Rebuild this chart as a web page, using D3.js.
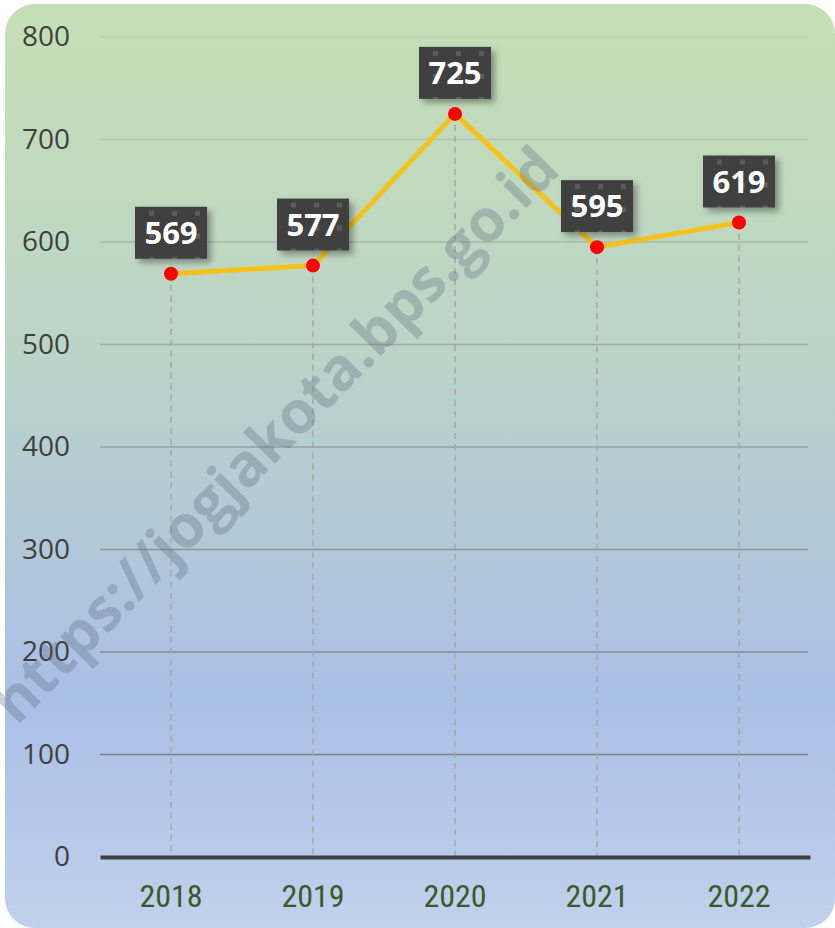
<!DOCTYPE html>
<html>
<head>
<meta charset="utf-8">
<script src="https://cdn.jsdelivr.net/npm/d3@7"></script>
<style>
  body { margin: 0; background: #fff; }
  svg { display: block; }
</style>
</head>
<body>
<div class="chart"></div>
<script>
// data
var years = ["2018", "2019", "2020", "2021", "2022"];
var values = [569, 577, 725, 595, 619];
var yTicks = [0, 100, 200, 300, 400, 500, 600, 700, 800];

var svgWidth = 835;
var svgHeight = 928;

var margin = { top: 37, right: 25, bottom: 71, left: 100 };
var width = svgWidth - margin.left - margin.right;
var height = svgHeight - margin.top - margin.bottom;

var svg = d3.select(".chart")
  .append("svg")
  .attr("width", svgWidth)
  .attr("height", svgHeight);

var defs = svg.append("defs");

// background gradient
var bg = defs.append("linearGradient")
  .attr("id", "bg")
  .attr("x1", 0).attr("y1", 0).attr("x2", 0).attr("y2", 1);
bg.append("stop").attr("offset", "0%").attr("stop-color", "#c5dfb5");
bg.append("stop").attr("offset", "35%").attr("stop-color", "#bcd5c6");
bg.append("stop").attr("offset", "75%").attr("stop-color", "#aabfe6");
bg.append("stop").attr("offset", "100%").attr("stop-color", "#c0d1ec");

// label box pattern
var pat = defs.append("pattern")
  .attr("id", "boxpat")
  .attr("width", 23).attr("height", 23)
  .attr("patternUnits", "userSpaceOnUse");
pat.append("rect").attr("width", 23).attr("height", 23).attr("fill", "#404040");
pat.append("rect").attr("x", 1).attr("y", 1).attr("width", 5).attr("height", 5).attr("fill", "#5a5a5a");

var shadow = defs.append("filter").attr("id", "shadow")
  .attr("x", "-30%").attr("y", "-30%").attr("width", "160%").attr("height", "160%");
shadow.append("feDropShadow")
  .attr("dx", 4).attr("dy", 4).attr("stdDeviation", 3)
  .attr("flood-color", "#000").attr("flood-opacity", 0.35);

svg.append("rect")
  .attr("x", 5).attr("y", 4)
  .attr("width", 830).attr("height", 924)
  .attr("rx", 30)
  .attr("fill", "url(#bg)");

var chartGroup = svg.append("g")
  .attr("transform", `translate(${margin.left}, ${margin.top})`);

// scales
var xScale = d3.scaleBand()
  .domain(years)
  .range([0, 710]);

var yScale = d3.scaleLinear()
  .domain([0, 800])
  .range([height, 0]);

var gridColor = d3.scaleLinear()
  .domain([0, 800])
  .range(["#6d7580", "#c2cdb8"]);

// gridlines
chartGroup.selectAll(".grid")
  .data(yTicks.filter(d => d > 0))
  .enter()
  .append("line")
  .attr("x1", 0).attr("x2", 708)
  .attr("y1", d => yScale(d)).attr("y2", d => yScale(d))
  .attr("stroke", d => gridColor(d))
  .attr("stroke-width", 1.5);

// y axis labels
var leftAxis = d3.axisLeft(yScale).tickValues(yTicks).tickSize(0).tickPadding(30);
var yAxisG = chartGroup.append("g").call(leftAxis);
yAxisG.select(".domain").remove();
yAxisG.selectAll("text")
  .attr("font-family", "'Open Sans', sans-serif")
  .attr("font-size", "28px")
  .attr("fill", "#404040");

// watermark
svg.append("text")
  .attr("transform", "translate(278, 438) rotate(-45.5)")
  .attr("text-anchor", "middle")
  .attr("dominant-baseline", "middle")
  .attr("font-family", "'Open Sans', sans-serif")
  .attr("font-weight", "bold")
  .attr("font-size", "59px")
  .attr("fill", "#56667c")
  .attr("opacity", 0.3)
  .text("https://jogjakota.bps.go.id");

// drop lines
chartGroup.selectAll(".drop")
  .data(values)
  .enter()
  .append("line")
  .attr("x1", (d, i) => xScale(years[i]) + xScale.bandwidth() / 2)
  .attr("x2", (d, i) => xScale(years[i]) + xScale.bandwidth() / 2)
  .attr("y1", d => yScale(d))
  .attr("y2", height)
  .attr("stroke", "#a6a6a6")
  .attr("stroke-width", 1.5)
  .attr("stroke-dasharray", "6,5");

// x axis
var bottomAxis = d3.axisBottom(xScale).tickSize(0).tickPadding(27);
var xAxisG = chartGroup.append("g")
  .attr("transform", `translate(0, ${height})`)
  .call(bottomAxis);
xAxisG.select(".domain")
  .attr("stroke", "#404040")
  .attr("stroke-width", 4);
xAxisG.selectAll("text")
  .attr("font-family", "'Liberation Sans Narrow', 'Roboto Condensed', sans-serif")
  .attr("font-size", "32px")
  .attr("fill", "#3b5a2a");

// line
var line = d3.line()
  .x((d, i) => xScale(years[i]) + xScale.bandwidth() / 2)
  .y(d => yScale(d));

chartGroup.append("path")
  .datum(values)
  .attr("d", line)
  .attr("fill", "none")
  .attr("stroke", "#f5c21b")
  .attr("stroke-width", 5)
  .attr("stroke-linejoin", "round");

// markers
chartGroup.selectAll(".dot")
  .data(values)
  .enter()
  .append("circle")
  .attr("cx", (d, i) => xScale(years[i]) + xScale.bandwidth() / 2)
  .attr("cy", d => yScale(d))
  .attr("r", 7)
  .attr("fill", "#ff0000");

// labels
var labels = chartGroup.selectAll(".lbl")
  .data(values)
  .enter()
  .append("g")
  .attr("transform", (d, i) => `translate(${xScale(years[i]) + xScale.bandwidth() / 2}, ${yScale(d) - 41})`);

labels.append("rect")
  .attr("x", -36).attr("y", -26)
  .attr("width", 72).attr("height", 52)
  .attr("fill", "url(#boxpat)")
  .attr("filter", "url(#shadow)");

labels.append("text")
  .attr("text-anchor", "middle")
  .attr("dy", "0.36em")
  .attr("font-family", "'Open Sans', sans-serif")
  .attr("font-weight", "bold")
  .attr("font-size", "31px")
  .attr("fill", "#ffffff")
  .text(d => d);
</script>
</body>
</html>
